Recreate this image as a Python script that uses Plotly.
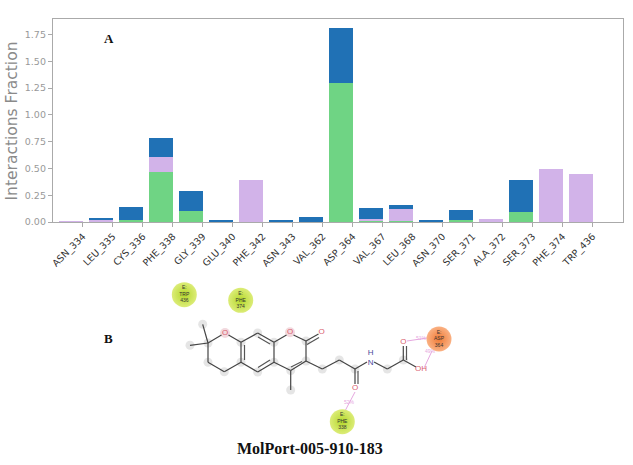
import plotly.graph_objects as go

# Panel A: stacked interaction fractions
residues = ["ASN_334", "LEU_335", "CYS_336", "PHE_338", "GLY_339", "GLU_340", "PHE_342", "ASN_343", "VAL_362",
            "ASP_364", "VAL_367", "LEU_368", "ASN_370", "SER_371", "ALA_372", "SER_373", "PHE_374", "TRP_436"]
hbonds = [0, 0, 0.02, 0.47, 0.10, 0, 0, 0, 0, 1.30, 0.005, 0.01, 0, 0.02, 0, 0.095, 0, 0]
hydrophobic = [0.005, 0.02, 0, 0.14, 0, 0, 0.395, 0, 0, 0, 0.025, 0.115, 0, 0, 0.025, 0, 0.495, 0.445]
water = [0, 0.015, 0.12, 0.17, 0.19, 0.01, 0, 0.01, 0.045, 0.51, 0.10, 0.035, 0.01, 0.09, 0, 0.30, 0, 0]
y_ticks = [0, 0.25, 0.5, 0.75, 1.0, 1.25, 1.5, 1.75]
y_tick_labels = ["0.00", "0.25", "0.50", "0.75", "1.00", "1.25", "1.50", "1.75"]

# Panel B: ligand diagram, in page pixels
atom_x = [202.7, 190, 208, 241, 257.7, 274, 306, 306, 290.7, 290.7, 274, 257.7, 241, 224.3, 208, 322.3, 339.3, 355, 387.3, 403.3]
atom_y = [324.3, 345.3, 343, 342.3, 333, 342.3, 341, 361, 370.5, 390, 362.3, 372, 362.3, 371.7, 362.3, 369, 360, 369, 369, 360]
bonds = [
    [(202.7, 324.3), (208, 343)], [(190, 345.3), (208, 343)], [(208, 343), (221.5, 335)], [(228.5, 335), (241, 342.3)],
    [(241, 342.3), (257.7, 333)], [(257.7, 333), (274, 342.3)], [(274, 342.3), (286.5, 335)], [(293.5, 335), (306, 341)],
    [(306, 341), (318.5, 334)], [(306, 341), (306, 361)], [(306, 361), (290.7, 370.5)], [(290.7, 370.5), (290.7, 390)],
    [(290.7, 370.5), (274, 362.3)], [(274, 362.3), (274, 342.3)], [(274, 362.3), (257.7, 372)], [(257.7, 372), (241, 362.3)],
    [(241, 362.3), (241, 342.3)], [(241, 362.3), (224.3, 371.7)], [(224.3, 371.7), (208, 362.3)], [(208, 362.3), (208, 343)],
    [(306, 361), (322.3, 369)], [(322.3, 369), (339.3, 360)], [(339.3, 360), (355, 369)], [(355, 369), (355, 384)],
    [(355, 369), (367, 362)], [(374, 362), (387.3, 369)], [(387.3, 369), (403.3, 360)], [(403.3, 360), (403.3, 346)],
    [(403.3, 360), (416, 367)],
]
double_bonds = [
    [(244.5, 345), (244.5, 360)], [(258, 337), (270, 344)], [(270, 360), (258, 367.5)], [(307, 344.5), (319, 337.5)],
    [(302, 361.5), (291, 367)], [(358, 371), (358, 384)], [(406.5, 360), (406.5, 346)],
]
hetero_labels = ["O", "O", "O", "O", "H<br>N", "O", "OH"]
hetero_x = [225, 290, 321.7, 355, 370.7, 403.3, 421]
hetero_y = [333, 332.3, 332.3, 388.3, 358, 341.7, 369.3]
hetero_colors = ["#d9606f", "#d9606f", "#d9606f", "#d9606f", "#4a4a9c", "#d9606f", "#d9606f"]
contacts = [[(355, 392), (345, 411)], [(407, 341), (427, 338)], [(424, 368), (432, 351)]]
contact_labels = ["52%", "51%", "49%"]
contact_label_x = [349, 421, 430]
contact_label_y = [403, 339, 352]
residue_labels = ["E:<br>TRP<br>436", "E:<br>PHE<br>374", "E:<br>ASP<br>364", "E:<br>PHE<br>338"]
residue_x = [184.3, 240.7, 439, 342.3]
residue_y = [294.7, 300.3, 339, 421.7]
residue_colors = ["#b4d82a", "#b4d82a", "#f07a35", "#b4d82a"]
residue_glow = ["#dcec78", "#dcec78", "#fab183", "#dcec78"]

W, H = 633, 465
fig = go.Figure()

# bars sit left of their ticks, right edge on the tick
for name, vals, color in [("HBonds", hbonds, "#6fd484"), ("Hydrophobic", hydrophobic, "#d2b3e9"), ("Water", water, "#2071b5")]:
    fig.add_trace(go.Bar(x=residues, y=vals, name=name, width=0.8, offset=-0.8, marker=dict(color=color, line=dict(width=0))))


def add_lines(segments, color, width):
    xs, ys = [], []
    for a, b in segments:
        xs += [a[0], b[0], None]
        ys += [a[1], b[1], None]
    fig.add_trace(go.Scatter(x=xs, y=ys, mode="lines", xaxis="x2", yaxis="y2",
                             line=dict(color=color, width=width)))


# grey halos behind the atoms
fig.add_trace(go.Scatter(x=atom_x, y=atom_y, mode="markers", xaxis="x2", yaxis="y2",
                         marker=dict(size=9, color="rgba(190,190,190,0.4)")))
fig.add_trace(go.Scatter(x=hetero_x[:2], y=hetero_y[:2], mode="markers", xaxis="x2", yaxis="y2",
                         marker=dict(size=10, color="rgba(230,180,190,0.5)")))
add_lines(bonds, "#444444", 1.2)
add_lines(double_bonds, "#555555", 1.2)
add_lines(contacts, "#e6a8e0", 1)

fig.add_trace(go.Scatter(x=hetero_x, y=hetero_y, mode="text", xaxis="x2", yaxis="y2", text=hetero_labels,
                         textposition="middle center", textfont=dict(family="Liberation Sans", size=8, color=hetero_colors)))
fig.add_trace(go.Scatter(x=contact_label_x, y=contact_label_y, mode="text", xaxis="x2", yaxis="y2",
                         text=contact_labels, textfont=dict(family="Liberation Sans", size=5, color="#e6a8e0")))
fig.add_trace(go.Scatter(x=residue_x, y=residue_y, mode="markers+text", xaxis="x2", yaxis="y2",
                         marker=dict(size=25, color=residue_glow, line=dict(width=0),
                                     gradient=dict(type="radial", color=residue_colors)),
                         text=residue_labels, textposition="middle center",
                         textfont=dict(family="Liberation Sans", size=5, color="#333333")))

fig.update_layout(
    width=W, height=H, margin=dict(l=0, r=0, t=0, b=0), autosize=False,
    paper_bgcolor="white", plot_bgcolor="rgba(0,0,0,0)", showlegend=False, barmode="stack", bargap=0.2,
    xaxis=dict(domain=[53 / W, 622.7 / W], anchor="y", range=[-1, 18], type="category", automargin=False,
               categoryorder="array", categoryarray=residues, tickangle=-45, ticks="outside", ticklen=4,
               tickcolor="#aaaaaa", tickfont=dict(family="DejaVu Sans", size=9.5, color="#333333"),
               showline=True, linecolor="#aaaaaa", linewidth=1.3, mirror=True, showgrid=False, zeroline=False),
    yaxis=dict(domain=[(H - 222) / H, (H - 19) / H], anchor="x", range=[0, 1.896], tickvals=y_ticks,
               automargin=False, ticktext=y_tick_labels, ticks="outside", ticklen=4, tickcolor="#aaaaaa",
               tickfont=dict(family="DejaVu Sans", size=9.5, color="#999999"),
               showline=True, linecolor="#aaaaaa", linewidth=1.3, mirror=True, showgrid=False, zeroline=False),
    xaxis2=dict(domain=[0, 1], range=[0, W], visible=False, anchor="y2"),
    yaxis2=dict(domain=[0, 1], range=[H, 0], visible=False, anchor="x2"),
    annotations=[
        dict(text="Interactions Fraction", x=11.5, y=121, xref="x2", yref="y2", showarrow=False, textangle=-90,
             font=dict(family="DejaVu Sans", size=15.5, color="#8a8a8a")),
        dict(text="<b>A</b>", x=108.5, y=38.5, xref="x2", yref="y2", showarrow=False,
             font=dict(family="Liberation Serif", size=13, color="#111111")),
        dict(text="<b>B</b>", x=108, y=338, xref="x2", yref="y2", showarrow=False,
             font=dict(family="Liberation Serif", size=13, color="#111111")),
        dict(text="<b>MolPort-005-910-183</b>", x=309.5, y=448.5, xref="x2", yref="y2", showarrow=False,
             font=dict(family="Liberation Serif", size=16, color="#111111")),
    ],
)

# drop the page's default 8px body margin so the figure fills the window
fig.write_html("out.html", config=dict(displayModeBar=False), post_script="document.body.style.margin = '0';")
